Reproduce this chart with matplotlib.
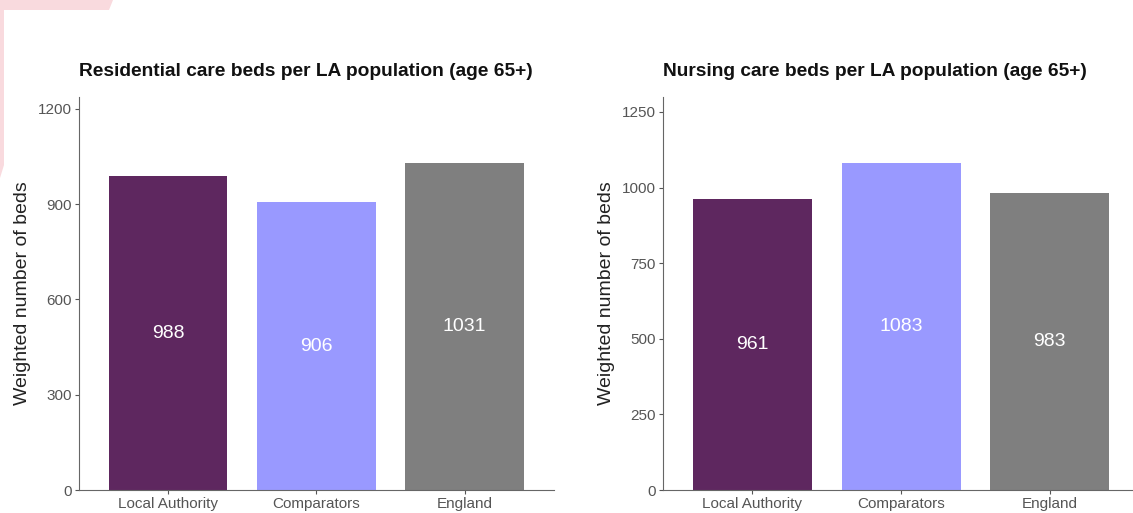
import matplotlib.pyplot as plt
from matplotlib.patches import Polygon

plt.rcParams['font.family'] = ['Liberation Sans', 'DejaVu Sans']

categories = ['Local Authority', 'Comparators', 'England']
residential = [988, 906, 1031]
nursing = [961, 1083, 983]
bar_colors = ['#5e275f', '#9999ff', '#7f7f7f']

residential_ticks = [0, 300, 600, 900, 1200]
nursing_ticks = [0, 250, 500, 750, 1000, 1250]

W, H = 1133, 513
fig = plt.figure(figsize=(W / 100, H / 100), dpi=100)

# faint pink screenshot leftover in the top-left corner
pts = [(0, 0), (113, 0), (109, 10), (4, 10), (4, 165), (0, 178)]
fig.patches.append(Polygon([(x / W, 1 - y / H) for x, y in pts], closed=True,
                           transform=fig.transFigure, facecolor='#f9dade',
                           edgecolor='none', zorder=-1))


def panel(rect, values, ticks, title):
    ax = fig.add_axes(rect)
    x = range(len(categories))
    ax.bar(x, values, width=0.8, color=bar_colors)
    for xi, v in zip(x, values):
        ax.text(xi, v / 2, str(v), ha='center', va='center', color='white', fontsize=14)
    ax.set_xlim(-0.6, len(categories) - 0.4)
    ax.set_ylim(0, max(values) * 1.2)
    ax.set_xticks(list(x))
    ax.set_xticklabels(categories, fontsize=11, color='#555555')
    ax.set_yticks(ticks)
    ax.set_yticklabels([str(t) for t in ticks], fontsize=11, color='#555555')
    ax.tick_params(length=3, width=0.8, color='#555555', pad=2)
    for s in ['top', 'right']:
        ax.spines[s].set_visible(False)
    for s in ['left', 'bottom']:
        ax.spines[s].set_color('#666666')
        ax.spines[s].set_linewidth(0.8)
    ax.set_ylabel('Weighted number of beds', fontsize=14, color='#222222', labelpad=5)
    ax.set_title(title, fontsize=13.8, fontweight='bold', color='#111111', pad=15, loc='left')
    return ax


bottom = 1 - 490 / H
height = 393 / H
panel([79 / W, bottom, 474.5 / W, height], residential, residential_ticks,
      'Residential care beds per LA population (age 65+)')
panel([663 / W, bottom, 476 / W, height], nursing, nursing_ticks,
      'Nursing care beds per LA population (age 65+)')

fig.savefig('out.png', dpi=100)
